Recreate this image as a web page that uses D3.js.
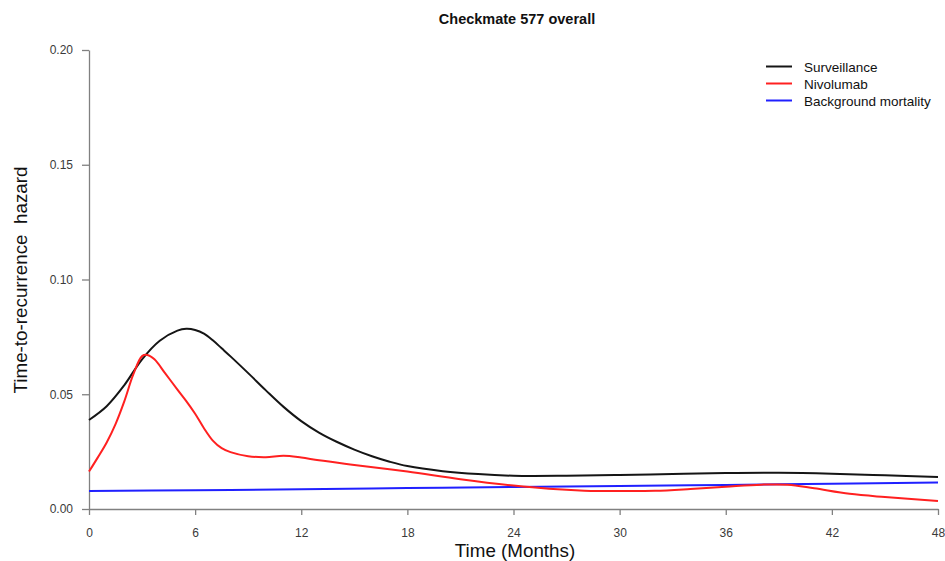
<!DOCTYPE html>
<html>
<head>
<meta charset="utf-8">
<script src="https://cdn.jsdelivr.net/npm/d3@7"></script>
<style>
html,body{margin:0;padding:0;background:#fff;}
svg{display:block;font-family:"Liberation Sans",Arial,sans-serif;}
</style>
</head>
<body>
<svg id="chart" width="945" height="561"></svg>
<script>
const title = "Checkmate 577 overall";
const xLabel = "Time (Months)";
const yLabel = "Time-to-recurrence  hazard";
const xTicks = [0, 6, 12, 18, 24, 30, 36, 42, 48];
const yTicks = [0.00, 0.05, 0.10, 0.15, 0.20];
const seriesNames = ["Surveillance", "Nivolumab", "Background mortality"];
const seriesColors = ["#151515", "#ff2020", "#2020ff"];

const survMonths = [0, 1, 2, 3, 4, 5, 5.5, 6, 6.5, 7, 7.5, 8, 9, 10, 11, 12, 13, 14, 15, 16, 17, 18, 20, 22, 24, 27, 30, 33, 36, 39, 42, 45, 48];
const survValues = [0.0388, 0.0448, 0.0540, 0.0652, 0.0733, 0.0777, 0.0785, 0.0780, 0.0764, 0.0735, 0.0700, 0.0665, 0.0592, 0.0517, 0.0445, 0.0383, 0.0333, 0.0293, 0.0259, 0.0230, 0.0206, 0.0187, 0.0165, 0.0152, 0.0145, 0.0145, 0.0148, 0.0153, 0.0157, 0.0158, 0.0154, 0.0147, 0.0139];

const nivoMonths = [0, 0.5, 1, 1.5, 2, 2.5, 3, 3.3, 3.7, 4.3, 5, 5.5, 6, 6.5, 7, 7.5, 8, 9, 10, 11, 12, 13, 15, 18, 21, 24, 26, 28, 30, 32, 34, 36, 38, 39.5, 41, 43, 45, 48];
const nivoValues = [0.0163, 0.0225, 0.0290, 0.0370, 0.0470, 0.0585, 0.0666, 0.0671, 0.0652, 0.0592, 0.0520, 0.0470, 0.0415, 0.0352, 0.0298, 0.0265, 0.0248, 0.0230, 0.0226, 0.0232, 0.0224, 0.0212, 0.0192, 0.0163, 0.0130, 0.0102, 0.0088, 0.0080, 0.0078, 0.0079, 0.0087, 0.0097, 0.0106, 0.0106, 0.0090, 0.0066, 0.0052, 0.0035];

const bgMonths = [0, 6, 12, 18, 24, 30, 36, 42, 48];
const bgValues = [0.0078, 0.0082, 0.0086, 0.0091, 0.0096, 0.0100, 0.0105, 0.0110, 0.0115];

const svg = d3.select("#chart");
const x = d3.scaleLinear().domain([0, 48]).range([89, 938]);
const y = d3.scaleLinear().domain([0, 0.20]).range([509, 50]);

const axisColor = "#808080";
const textColor = "#3a3a3a";

const yAxis = svg.append("g").attr("transform", "translate(89,0)")
  .call(d3.axisLeft(y).tickValues(yTicks).tickFormat(d3.format(".2f")).tickSize(7).tickSizeOuter(0));
const xAxis = svg.append("g").attr("transform", "translate(0,509)")
  .call(d3.axisBottom(x).tickValues(xTicks).tickFormat(d3.format("d")).tickSize(6).tickSizeOuter(0));

[yAxis, xAxis].forEach(g => {
  g.select(".domain").attr("stroke", axisColor).attr("stroke-width", 1.3);
  g.selectAll(".tick line").attr("stroke", axisColor).attr("stroke-width", 1.3);
  g.selectAll(".tick text").attr("fill", textColor).attr("font-size", 12)
    .attr("font-family", "Liberation Sans, Arial, sans-serif");
});
yAxis.selectAll(".tick text").attr("x", -16);
xAxis.selectAll(".tick text").attr("y", 24).attr("dy", "0.35em");

const line = d3.line().x(d => x(d[0])).y(d => y(d[1])).curve(d3.curveCatmullRom.alpha(0.5));
const bgData = d3.zip(bgMonths, bgValues);
const survData = d3.zip(survMonths, survValues);
const nivoData = d3.zip(nivoMonths, nivoValues);

svg.append("path").datum(bgData).attr("d", line).attr("fill", "none")
  .attr("stroke", seriesColors[2]).attr("stroke-width", 2);
svg.append("path").datum(survData).attr("d", line).attr("fill", "none")
  .attr("stroke", seriesColors[0]).attr("stroke-width", 2);
svg.append("path").datum(nivoData).attr("d", line).attr("fill", "none")
  .attr("stroke", seriesColors[1]).attr("stroke-width", 2);

svg.append("text").attr("x", 517).attr("y", 24).attr("text-anchor", "middle")
  .attr("font-size", 14.5).attr("font-weight", "bold").attr("fill", "#111").text(title);

svg.append("text").attr("x", 515).attr("y", 557).attr("text-anchor", "middle")
  .attr("font-size", 18.8).attr("fill", "#111").text(xLabel);
svg.append("text").attr("transform", "translate(27,280) rotate(-90)").attr("text-anchor", "middle")
  .attr("font-size", 18.8).attr("fill", "#111").attr("xml:space", "preserve")
  .style("white-space", "pre").text(yLabel);

const leg = svg.append("g");
seriesNames.forEach((name, i) => {
  const yy = 66.5 + i * 17;
  leg.append("line").attr("x1", 766).attr("x2", 792).attr("y1", yy).attr("y2", yy)
    .attr("stroke", seriesColors[i]).attr("stroke-width", 2);
  leg.append("text").attr("x", 804).attr("y", yy + 5).attr("font-size", 13.5)
    .attr("fill", "#111").text(name);
});
</script>
</body>
</html>
